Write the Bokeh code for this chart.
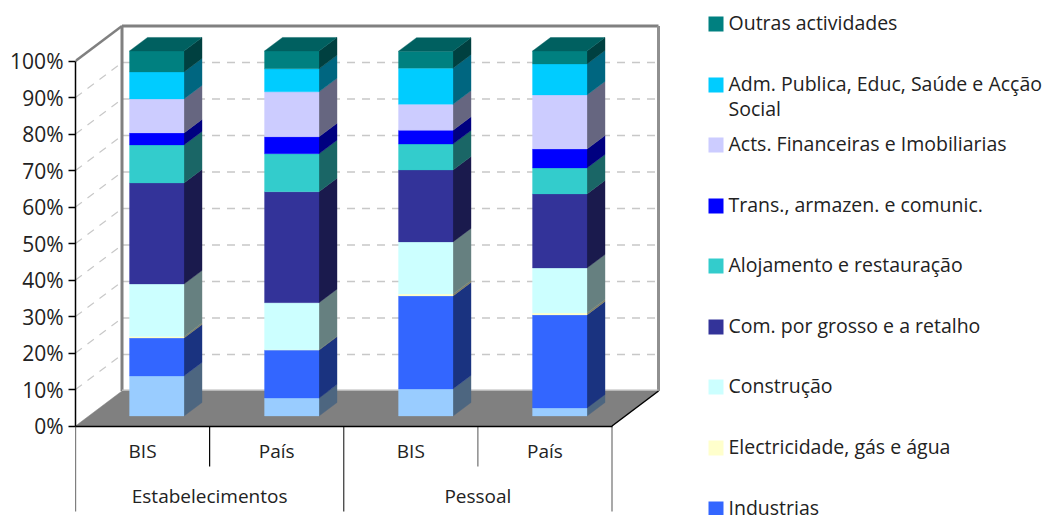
from bokeh.plotting import figure
from bokeh.embed import file_html
from bokeh.resources import INLINE
from bokeh.models import LinearAxis, FixedTicker, PrintfTickFormatter, Range1d
from bokeh.core.properties import value

# ---------- data ----------
groups = ["Estabelecimentos", "Pessoal"]
categories = ["BIS", "País", "BIS", "País"]
agricultura = [10.96, 4.9, 7.4, 2.2]
industrias = [10.4, 13.15, 25.5, 25.5]
electricidade = [0.4, 0.1, 0.55, 0.55]
construcao = [14.4, 12.9, 14.25, 12.3]
comercio = [27.7, 30.4, 19.7, 20.3]
alojamento = [10.4, 10.4, 7.1, 7.1]
transportes = [3.3, 4.66, 3.8, 5.2]
financeiras = [9.3, 12.3, 7.1, 14.8]
administracao = [7.4, 6.3, 9.9, 8.5]
outras = [5.75, 4.9, 4.65, 3.55]

stack = [agricultura, industrias, electricidade, construcao, comercio,
         alojamento, transportes, financeiras, administracao, outras]
front_colors = ["#99CCFF", "#3366FF", "#FFFFCC", "#CCFFFF", "#333399",
                "#33CCCC", "#0000FF", "#CCCCFF", "#00CCFF", "#008080"]
side_colors = ["#4D6680", "#1A3380", "#808066", "#668080", "#1A1A4D",
               "#1A6666", "#000080", "#666680", "#006680", "#004040"]
top_color = "#006060"

legend_labels = ["Outras actividades", "Adm. Publica, Educ, Saúde e Acção\nSocial",
                 "Acts. Financeiras e Imobiliarias", "Trans., armazen. e comunic.",
                 "Alojamento e restauração", "Com. por grosso e a retalho",
                 "Construção", "Electricidade, gás e água", "Industrias"]
legend_colors = ["#008080", "#00CCFF", "#CCCCFF", "#0000FF", "#33CCCC",
                 "#333399", "#CCFFFF", "#FFFFCC", "#3366FF"]
y_ticks = [0, 10, 20, 30, 40, 50, 60, 70, 80, 90, 100]

# ---------- geometry ----------
W, H = 1057, 515
FONT = "Open Sans"
TXT = "#222222"
PX_X = 134.125            # pixels per category
PX_Y = 3.65               # pixels per percent
LEFT = 75                 # frame left in figure pixels
x0 = 0.0
x1 = x0 + (W - LEFT) / PX_X
y0 = -(H - 425.5) / PX_Y
y1 = y0 + H / PX_Y
def fx(px):               # page pixel -> data x
    return (px - 75) / PX_X
def fy(py):               # page pixel -> data y
    return (425.5 - py) / PX_Y

DX, DY = 46.5 / PX_X, 35 / PX_Y          # wall depth
BW = 54.5 / PX_X                         # bar width
BX = [fx(129), fx(264), fx(398), fx(532)]  # bar left edges
BY = 10 / PX_Y                           # bar base above the front edge
SX, SY = 18 / PX_X, 13.5 / PX_Y          # bar depth

p = figure(width=W, height=H, output_backend="svg", toolbar_location=None,
           x_range=Range1d(x0, x1), y_range=Range1d(y0, y1),
           min_border_left=LEFT, min_border_right=0, min_border_top=0, min_border_bottom=0,
           x_axis_location=None, y_axis_location=None, outline_line_color=None,
           background_fill_color="white", border_fill_color="white")
p.grid.visible = False

# floor
n = len(categories)
p.patch([0, DX, n + DX, n], [0, DY, DY, 0], fill_color="#808080", line_color="#808080", line_width=0.5)

# grid on the walls
v = y_ticks[1:-1]
p.segment([DX] * len(v), [t + DY for t in v], [n + DX - 0.02] * len(v), [t + DY for t in v],
          line_color="#C8C8C8", line_width=1.5, line_dash="8 7")
p.segment([0] * len(v), v, [DX - 0.01] * len(v), [t + DY * 0.97 for t in v],
          line_color="#C8C8C8", line_width=1.2, line_dash="8 7")

# wall frame
p.line([0, DX], [100, 100 + DY], line_color="#808080", line_width=2.5)
p.line([DX, DX], [DY, 100 + DY], line_color="#808080", line_width=3)
p.line([DX, n + DX], [100 + DY, 100 + DY], line_color="#808080", line_width=3)
p.line([n + DX, n + DX], [DY, 100 + DY], line_color="#909090", line_width=3)
p.line([DX, n + DX], [DY + 0.2, DY + 0.2], line_color="#B8B8B8", line_width=1.5)
p.line([n, n + DX], [0, DY], line_color="black", line_width=1.5)

# bars
for i in range(n):
    base = BY
    for s, series in enumerate(stack):
        top = base + series[i]
        l, r = BX[i], BX[i] + BW
        p.patch([r, r + SX, r + SX, r], [base, base + SY, top + SY, top],
                fill_color=side_colors[s], line_color=side_colors[s], line_width=0.4)
        p.quad(left=[l], right=[r], bottom=[base], top=[top],
               fill_color=front_colors[s], line_color=front_colors[s], line_width=0.3)
        base = top
    p.patch([l, r, r + SX, l + SX], [base, base, base + SY, base + SY],
            fill_color=top_color, line_color=top_color, line_width=0.4)

# y axis
yax = LinearAxis(ticker=FixedTicker(ticks=y_ticks), formatter=PrintfTickFormatter(format="%d%%"),
                 bounds=(0, 100))
yax.major_tick_out = 7
yax.major_tick_in = 0
yax.minor_tick_line_color = None
yax.axis_line_color = "black"
yax.axis_line_width = 1.5
yax.major_tick_line_color = "black"
yax.major_tick_line_width = 1.5
yax.major_label_standoff = 5
yax.major_label_text_font = FONT
yax.major_label_text_font_size = "21px"
yax.major_label_text_color = TXT
p.add_layout(yax, "left")

# x axis at y = 0
centers = [i + 0.5 for i in range(n)]
xax = LinearAxis(ticker=FixedTicker(ticks=centers), bounds=(0, n), fixed_location=0,
                 major_label_overrides={c: t for c, t in zip(centers, categories)})
xax.major_tick_line_color = None
xax.minor_tick_line_color = None
xax.axis_line_color = "black"
xax.axis_line_width = 1.5
xax.major_label_standoff = 6
xax.major_label_text_font = FONT
xax.major_label_text_font_size = "19px"
xax.major_label_text_color = TXT
p.add_layout(xax, "below")

# axis separators
p.segment([0, 2, 4], [0] * 3, [0, 2, 4], [fy(511)] * 3, line_color=["black", "#333333", "#707070"], line_width=1.2)
p.segment([1, 3], [0] * 2, [1, 3], [fy(466)] * 2, line_color=["black", "#707070"], line_width=1.2)
p.text([1, 3], [fy(495)] * 2, text=groups, text_font=value(FONT), text_font_size="19px",
       text_color=TXT, text_align="center", text_baseline="middle")

# legend
row_top = [16, 77, 137, 198, 258, 319, 379, 440, 501]
p.quad(left=[fx(708)] * 9, right=[fx(723)] * 9,
       top=[fy(t) for t in row_top], bottom=[fy(t + 15) for t in row_top],
       fill_color=legend_colors, line_color=None)
p.text([fx(728)] * 9, [fy(t - 7.5) for t in row_top], text=legend_labels, text_font=value(FONT),
       text_font_size="19.5px", text_color=TXT, text_align="left", text_baseline="top",
       text_line_height=0.94)

open("out.html", "w").write(file_html(p, INLINE))
